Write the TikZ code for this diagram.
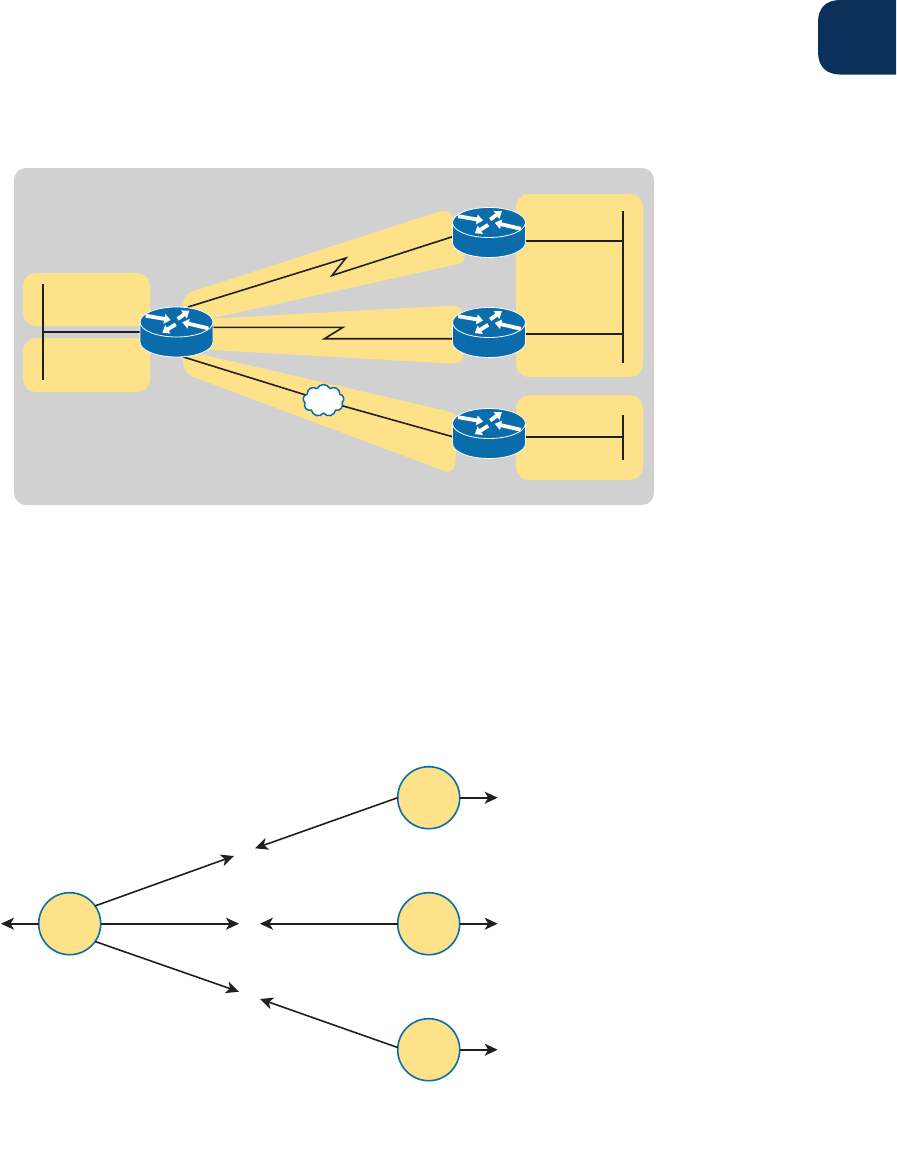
\documentclass[tikz,border=0pt]{standalone}
\usetikzlibrary{arrows.meta,shapes.symbols}
\definecolor{panelgray}{HTML}{D1D1D1}
\definecolor{softyellow}{HTML}{FDE28A}
\definecolor{routerblue}{HTML}{0B6CAB}
\definecolor{tabblue}{HTML}{0B3059}
\definecolor{inkline}{HTML}{231F20}
\tikzset{
  panel/.style={fill=panelgray,rounded corners=12pt},
  zone/.style={fill=softyellow,rounded corners=13pt},
  beam/.style={fill=softyellow,rounded corners=10pt},
  wire/.style={draw=inkline,line width=1.6pt,line join=miter},
  routerbox/.style={rectangle,minimum width=73pt,minimum height=50pt,inner sep=0pt,outer sep=0pt},
  routerarrow/.style={draw=white,line width=3.8pt,-{Triangle[length=6.5pt,width=9.5pt]}},
  statecircle/.style={circle,draw=routerblue,fill=softyellow,line width=1.6pt,minimum size=62pt,inner sep=0pt,outer sep=0pt},
  flow/.style={draw=inkline,line width=1.6pt,-{Stealth[length=13pt,width=12pt,inset=3.5pt]}},
  wancloud/.style={cloud,cloud puffs=9,cloud puff arc=130,aspect=1.3,draw=routerblue,fill=white,line width=1.5pt,minimum width=41pt,minimum height=32pt,inner sep=0pt,outer sep=0pt},
  routerpic/.pic={
    \path[fill=routerblue,draw=white,line width=0.8pt]
      (-36.5,10) .. controls (-36.5,18.3) and (-20.2,25) .. (0,25)
      .. controls (20.2,25) and (36.5,18.3) .. (36.5,10) -- (36.5,-10)
      .. controls (36.5,-18.3) and (20.2,-25) .. (0,-25)
      .. controls (-20.2,-25) and (-36.5,-18.3) .. (-36.5,-10) -- cycle;
    \draw[white,line width=0.8pt] (-36.5,-10) .. controls (-36.5,-1.7) and (-20.2,5) .. (0,5)
      .. controls (20.2,5) and (36.5,-1.7) .. (36.5,-10);
    \draw[routerarrow] (-30.8,-16.3) -- (-5.8,-12);
    \draw[routerarrow] (1.2,-13) -- (12.8,-21.3);
    \draw[routerarrow] (31.8,-3.7) -- (5.8,-9.7);
    \draw[routerarrow] (-0.8,-7.7) -- (-14.2,0.7);
  },
}
\begin{document}
\begin{tikzpicture}[x=1pt,y=-1pt]
\useasboundingbox (0,0) rectangle (897,1173);
% corner tab
\fill[tabblue] (896,0) -- (840,0) .. controls (826,0) and (818,8) .. (818,22) -- (818,52)
  .. controls (818,66) and (826,74.5) .. (840,74.5) -- (896,74.5) -- cycle;
% panel and zones
\fill[panel] (14,168) rectangle (654,505);
\fill[zone] (23,273) rectangle (150,326);
\fill[zone] (23,338) rectangle (150,392);
\fill[zone] (516,194) rectangle (643,377);
\fill[zone] (516,395) rectangle (643,480);
\fill[beam] (183,294.5) -- (450,208) -- (467.5,262) -- (213,318) -- (183,322) -- cycle;
\fill[beam] (195,319.5) -- (463,305) -- (463,364.3) -- (195,349) -- cycle;
\fill[beam] (183,350) -- (460,414) -- (454,474.5) -- (183,373) -- cycle;
% anchors
\node[routerbox] (r0) at (176.5,332) {};
\node[routerbox] (r1) at (489,232.5) {};
\node[routerbox] (r2) at (489,332.5) {};
\node[routerbox] (r3) at (489,433.5) {};
\coordinate (busLtop) at (43,284);
\coordinate (busLbot) at (43,380);
\coordinate (busLjoin) at (43,332);
\coordinate (busAtop) at (622.7,211);
\coordinate (busAbot) at (622.7,363);
\coordinate (busAj1) at (622.7,240.7);
\coordinate (busAj2) at (622.7,333.7);
\coordinate (busBtop) at (622.7,415);
\coordinate (busBbot) at (622.7,460);
\coordinate (busBj) at (622.7,436.7);
\coordinate (zA) at (346,258);
\coordinate (zB) at (332,275.5);
\coordinate (zC) at (343,327.3);
\coordinate (zD) at (324.5,338.7);
\node[wancloud] (cl) at (323.5,400.5) {};
% wires
\draw[wire] (busLtop) -- (busLbot);
\draw[wire] (busLjoin) -- (r0.west);
\draw[wire] (busAtop) -- (busAbot);
\draw[wire] (busAj1) -- ([yshift=-8.2pt]r1.east);
\draw[wire] (busAj2) -- ([yshift=-1.2pt]r2.east);
\draw[wire] (busBtop) -- (busBbot);
\draw[wire] (busBj) -- ([yshift=-3.2pt]r3.east);
\draw[wire] ([xshift=11.5pt]r0.north) -- (zA) -- (zB) -- ([yshift=-4.2pt]r1.west);
\draw[wire] ([yshift=4.7pt]r0.east) -- (zC) -- (zD) -- ([yshift=-6.2pt]r2.west);
\draw[wire] ([xshift=7pt]r0.south) -- (cl);
\draw[wire] (cl) -- ([yshift=-3.2pt]r3.west);
\pic at (r0.center) {routerpic};
\pic at (r1.center) {routerpic};
\pic at (r2.center) {routerpic};
\pic at (r3.center) {routerpic};
% state diagram
\node[statecircle] (c0) at (69.7,923.7) {};
\node[statecircle] (c1) at (428.7,797.7) {};
\node[statecircle] (c2) at (428.7,923.7) {};
\node[statecircle] (c3) at (428.7,1049.7) {};
\coordinate (outL) at (1,923.7);
\coordinate (out1) at (497.7,797.7);
\coordinate (out2) at (497.7,923.7);
\coordinate (out3) at (497.7,1049.7);
\coordinate (mA) at (234,856);
\coordinate (mB) at (239,923.7);
\coordinate (mC) at (239,991.7);
\coordinate (mD) at (255,848.3);
\coordinate (mE) at (260,923.7);
\coordinate (mF) at (260,999);
\draw[flow] (c0.west) -- (outL);
\draw[flow] (c0.35) -- (mA);
\draw[flow] (c0.east) -- (mB);
\draw[flow] (c0.-35) -- (mC);
\draw[flow] (c1.west) -- (mD);
\draw[flow] (c2.west) -- (mE);
\draw[flow] (c3.176) -- (mF);
\draw[flow] (c1.east) -- (out1);
\draw[flow] (c2.east) -- (out2);
\draw[flow] (c3.east) -- (out3);
\end{tikzpicture}
\end{document}
